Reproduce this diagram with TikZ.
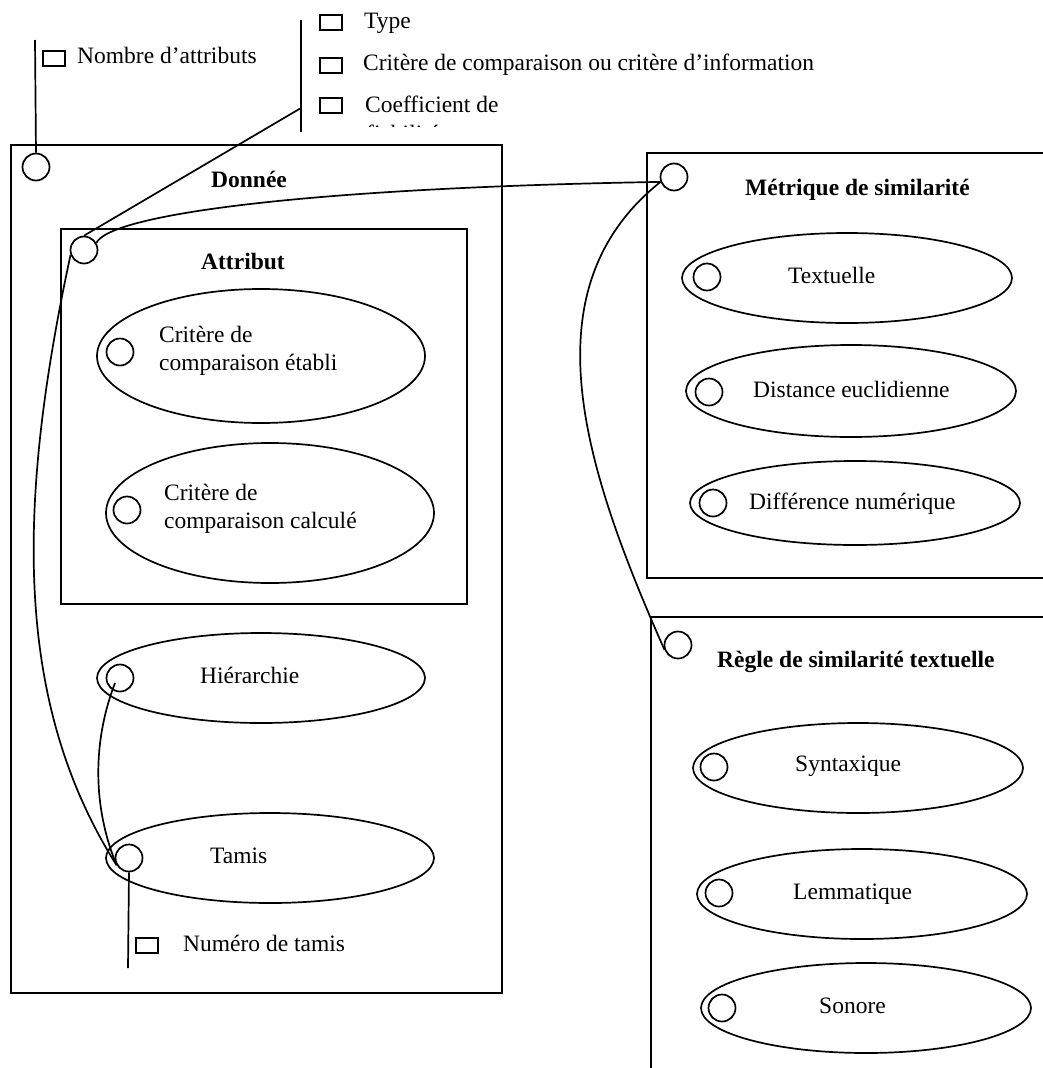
\documentclass[tikz,border=0pt]{standalone}
\usepackage{fontspec}
\setmainfont{Liberation Serif}
\usetikzlibrary{calc,shapes.geometric}
\begin{document}
\begin{tikzpicture}[x=1pt,y=-1pt,
  box/.style={draw,line width=2pt,inner sep=0,rectangle},
  uc/.style={draw,ellipse,line width=1.7pt,inner sep=0},
  port/.style={draw,circle,line width=1.7pt,minimum size=27pt,inner sep=0},
  attrsq/.style={draw,rectangle,line width=2pt,minimum width=22pt,minimum height=15pt,inner sep=0},
  lbl/.style={anchor=base west,inner sep=0,font=\fontsize{23.5}{28}\selectfont},
  ttl/.style={anchor=base west,inner sep=0,font=\fontsize{23.5}{28}\selectfont\bfseries},
  conn/.style={line width=1.7pt}]
\useasboundingbox (0,0) rectangle (1043,1068);
\clip (0,0) rectangle (1043,1068);

% boxes
\node[box,minimum width=491pt,minimum height=848pt] (donnee) at (256.5,569) {};
\node[box,minimum width=406pt,minimum height=375pt] (attribut) at (264,416.5) {};
\node[box,minimum width=413pt,minimum height=425pt] (metrique) at (853.5,365.5) {};
\node[box,minimum width=419pt,minimum height=473pt] (regle) at (860.5,853.5) {};

% titles
\node[ttl] (tdonnee) at (211,187) {Donnée};
\node[ttl] (tattribut) at (201,269) {Attribut};
\node[ttl] (tmetrique) at (745,195) {Métrique de similarité};
\node[ttl] (tregle) at (717,667) {Règle de similarité textuelle};

% ellipses
\node[uc,minimum width=328pt,minimum height=134pt] (e1) at (261,356) {};
\node[uc,minimum width=328pt,minimum height=140pt] (e2) at (270,513) {};
\node[uc,minimum width=328pt,minimum height=90pt] (e3) at (261,678) {};
\node[uc,minimum width=328pt,minimum height=90pt] (e4) at (270,858) {};
\node[uc,minimum width=330pt,minimum height=90pt] (m1) at (847,278) {};
\node[uc,minimum width=330pt,minimum height=92pt] (m2) at (851,391) {};
\node[uc,minimum width=330pt,minimum height=84pt] (m3) at (855,503) {};
\node[uc,minimum width=330pt,minimum height=90pt] (r1) at (858,768) {};
\node[uc,minimum width=330pt,minimum height=90pt] (r2) at (862,894) {};
\node[uc,minimum width=330pt,minimum height=90pt] (r3) at (866,1008) {};

% ellipse labels
\node[lbl] (e1a) at (159,342) {Critère de};
\node[lbl] (e1b) at (159,370) {comparaison établi};
\node[lbl] (e2a) at (164,500) {Critère de};
\node[lbl] (e2b) at (164,528) {comparaison calculé};
\node[lbl] (e3t) at (200,683) {Hiérarchie};
\node[lbl] (e4t) at (210,863) {Tamis};
\node[lbl] (m1t) at (788,283) {Textuelle};
\node[lbl] (m2t) at (753,397) {Distance euclidienne};
\node[lbl] (m3t) at (749,509) {Différence numérique};
\node[lbl] (r1t) at (795,771) {Syntaxique};
\node[lbl] (r2t) at (793,899) {Lemmatique};
\node[lbl] (r3t) at (819,1013) {Sonore};

% ports
\node[port] (pnb) at (36,167) {};
\node[port] (pattr) at (84,250) {};
\node[port] (pe1) at (120,352) {};
\node[port] (pe2) at (127,510) {};
\node[port] (phier) at (120,678) {};
\node[port] (ptam) at (129,858) {};
\node[port] (pmet) at (674,177) {};
\node[port] (pm1) at (707,277) {};
\node[port] (pm2) at (709,392) {};
\node[port] (pm3) at (713,503) {};
\node[port] (preg) at (678,645) {};
\node[port] (pr1) at (714,767) {};
\node[port] (pr2) at (719,893) {};
\node[port] (pr3) at (722,1008) {};

% attribute lists
\coordinate (nbtop) at (35,40);
\draw[conn] (nbtop) -- (pnb.north);
\node[attrsq] (sqnb) at (54,58.5) {};
\node[lbl] (tnb) at (77,63) {Nombre d’attributs};

\coordinate (bartop) at (301,20);
\coordinate (barbot) at (301,132);
\coordinate (barmid) at (301,108);
\draw[conn] (bartop) -- (barbot);
\node[attrsq] (sqtype) at (330.5,22.5) {};
\node[lbl] (ttype) at (364,28) {Type};
\node[attrsq] (sqcrit) at (330.5,65.5) {};
\node[lbl] (tcrit) at (363,70) {Critère de comparaison ou critère d’information};
\node[attrsq] (sqcoef) at (330.5,105.5) {};
\node[lbl] (tcoef) at (365,112) {Coefficient de};
\begin{scope}
  \clip (355,110) rectangle (470,126);
  \node[lbl] (tfiab) at (366,141) {fiabilité};
\end{scope}

\coordinate (tamstem) at (128,968);
\draw[conn] (ptam.south) -- (tamstem);
\node[attrsq] (sqtam) at (146.5,945) {};
\node[lbl] (ttam) at (183,951) {Numéro de tamis};

% connectors
\draw[conn] (barmid) -- (pattr.north);
\draw[conn] (pattr.30) .. controls (110,215) and (300,188) .. (pmet.200);
\draw[conn] (pattr.200) .. controls (18,500) and (12,700) .. (ptam.210);
\draw[conn] ($(phier.center)+(-5,5)$) .. controls (95,735) and (90,800) .. (ptam.210);
\draw[conn] (pmet.200) .. controls (525,290) and (585,470) .. (preg.200);
\end{tikzpicture}
\end{document}
